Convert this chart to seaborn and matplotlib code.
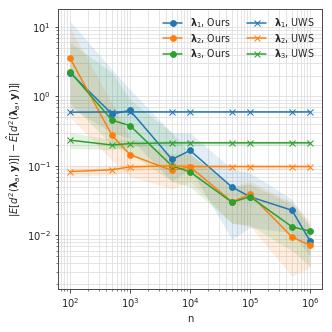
import numpy as np
import pandas as pd
import matplotlib
matplotlib.use("Agg")
import matplotlib.pyplot as plt
import seaborn as sns

n_values = [100, 500, 1000, 5000, 10000, 50000, 100000, 500000, 1000000]

# mean error per lambda, our method
ours_l1 = [2.2, 0.56, 0.63, 0.124, 0.167, 0.0496, 0.036, 0.023, 0.0083]
ours_l2 = [3.56, 0.275, 0.145, 0.086, 0.097, 0.0305, 0.039, 0.0095, 0.0072]
ours_l3 = [2.26, 0.456, 0.38, 0.1, 0.082, 0.030, 0.036, 0.0133, 0.0115]

ours_l1_lo = [0.7, 0.3, 0.25, 0.06, 0.09, 0.0088, 0.013, 0.011, 0.005]
ours_l1_hi = [12.1, 2.45, 1.25, 0.3, 0.3, 0.09, 0.08, 0.033, 0.014]
ours_l2_lo = [0.5, 0.12, 0.07, 0.047, 0.06, 0.015, 0.0135, 0.0026, 0.0035]
ours_l2_hi = [9.7, 0.8, 0.25, 0.15, 0.15, 0.05, 0.06, 0.03, 0.016]
ours_l3_lo = [0.8, 0.2, 0.15, 0.06, 0.05, 0.015, 0.014, 0.006, 0.0036]
ours_l3_hi = [6.0, 2.2, 0.9, 0.3, 0.15, 0.05, 0.055, 0.028, 0.013]

# UWS baseline
uws_l1 = [0.595, 0.6, 0.6, 0.6, 0.6, 0.6, 0.6, 0.6, 0.6]
uws_l2 = [0.083, 0.088, 0.097, 0.1, 0.098, 0.098, 0.098, 0.098, 0.098]
uws_l3 = [0.235, 0.2, 0.21, 0.215, 0.215, 0.215, 0.215, 0.215, 0.215]

uws_l1_lo = [0.58, 0.59, 0.59, 0.59, 0.59, 0.59, 0.59, 0.59, 0.59]
uws_l1_hi = [0.61, 0.61, 0.61, 0.61, 0.61, 0.61, 0.61, 0.61, 0.61]
uws_l2_lo = [0.07, 0.075, 0.085, 0.09, 0.09, 0.09, 0.09, 0.09, 0.09]
uws_l2_hi = [0.1, 0.1, 0.105, 0.108, 0.106, 0.106, 0.106, 0.106, 0.106]
uws_l3_lo = [0.18, 0.17, 0.19, 0.2, 0.2, 0.2, 0.2, 0.2, 0.2]
uws_l3_hi = [0.30, 0.24, 0.235, 0.23, 0.23, 0.23, 0.23, 0.23, 0.23]

sns.set_theme(style="ticks")
plt.rcParams["font.family"] = ["DejaVu Sans"]
plt.rcParams["mathtext.fontset"] = "dejavusans"

fig, ax = plt.subplots(figsize=(332 / 72, 332 / 72), dpi=72)
fig.subplots_adjust(left=0.175, right=0.97, top=0.973, bottom=0.13)

colors = sns.color_palette("tab10", 3)
ours = [(ours_l1, ours_l1_lo, ours_l1_hi), (ours_l2, ours_l2_lo, ours_l2_hi), (ours_l3, ours_l3_lo, ours_l3_hi)]
uws = [(uws_l1, uws_l1_lo, uws_l1_hi), (uws_l2, uws_l2_lo, uws_l2_hi), (uws_l3, uws_l3_lo, uws_l3_hi)]

for i, (mean, lo, hi) in enumerate(ours):
    df = pd.DataFrame({"n": n_values, "err": mean})
    sns.lineplot(data=df, x="n", y="err", ax=ax, color=colors[i], marker="o",
                 markersize=6, markeredgecolor=colors[i], linewidth=1.5,
                 label=r"$\boldsymbol{\lambda}_%d$, Ours" % (i + 1))
    ax.fill_between(n_values, lo, hi, color=colors[i], alpha=0.13, linewidth=0)

for i, (mean, lo, hi) in enumerate(uws):
    df = pd.DataFrame({"n": n_values, "err": mean})
    sns.lineplot(data=df, x="n", y="err", ax=ax, color=colors[i], marker="x",
                 markersize=6, markeredgecolor=colors[i], markeredgewidth=1.0,
                 linewidth=1.5, label=r"$\boldsymbol{\lambda}_%d$, UWS" % (i + 1))
    ax.fill_between(n_values, lo, hi, color=colors[i], alpha=0.13, linewidth=0)

ax.set_xscale("log")
ax.set_yscale("log")
ax.set_ylim(0.0017, 18.2)
ax.grid(True, which="both", color="0.87", linewidth=0.8)
ax.set_xlabel("n", fontsize=10)
ax.set_ylabel(r"$|E[d^2(\boldsymbol{\lambda}_a, \mathbf{y})]| - \hat{E}[d^2(\boldsymbol{\lambda}_a, \mathbf{y})]|$",
              fontsize=10)
ax.tick_params(labelsize=10, length=3.5, width=0.8)
ax.tick_params(which="minor", length=2, width=0.6)
for s in ax.spines.values():
    s.set_linewidth(1.0)
    s.set_color("0.3")

ax.legend(ncol=2, frameon=False, fontsize=9.5, loc="upper right",
          handlelength=2.0, columnspacing=1.8, labelspacing=0.15,
          borderaxespad=0.4)

plt.savefig("out.png", dpi=72)
